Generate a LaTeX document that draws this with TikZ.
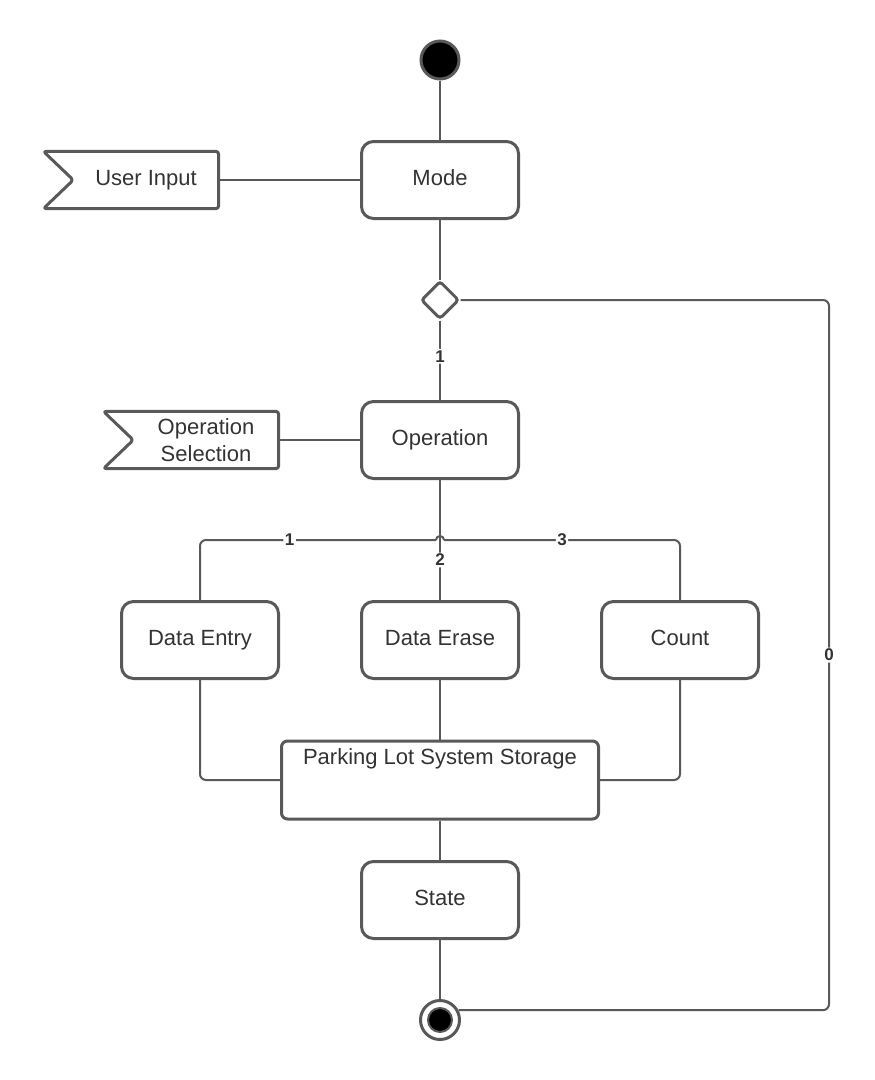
\documentclass[tikz,border=0pt]{standalone}
\usepackage{fontspec}
\setmainfont{Liberation Sans}
\usetikzlibrary{shapes.geometric,calc}
\definecolor{edge}{HTML}{595959}
\definecolor{ink}{HTML}{333333}
\tikzset{
  act/.style={draw=edge, line width=3pt, rectangle, rounded corners=12pt, align=center, text=ink, font=\fontsize{22}{27}\selectfont, minimum width=157pt, minimum height=77pt, text height=16pt, text depth=6pt, fill=white},
  flagbody/.style={rectangle, align=center, text=ink, font=\fontsize{22}{27}\selectfont, minimum width=145pt, minimum height=57pt, inner sep=0pt},
  flagline/.style={draw=edge, line width=3pt, rounded corners=3pt, line join=round},
  conn/.style={draw=edge, line width=2pt, rounded corners=6pt},
  lbl/.style={font=\fontsize{17}{20}\selectfont\bfseries, text=ink, fill=white, inner sep=1.5pt},
  startst/.style={circle, fill=black, draw=edge, line width=3pt, minimum size=38pt, inner sep=0pt},
  endst/.style={circle, fill=white, draw=edge, line width=3pt, minimum size=39pt, inner sep=0pt},
  enddot/.style={circle, fill=black, draw=edge, line width=2pt, minimum size=24pt, inner sep=0pt},
  choice/.style={diamond, draw=edge, line width=3pt, rounded corners=3pt, fill=white, minimum size=38pt, inner sep=0pt},
}

\begin{document}
\begin{tikzpicture}[x=1pt,y=-1pt]
\useasboundingbox (0,0) rectangle (875,1080);
% states and actions
\node[startst] (start) at (440,60) {};
\node[act] (mode) at (440,180) {Mode};
\node[choice] (dec) at (440,300) {};
\node[act] (op) at (440,440) {Operation};
\node[act] (entry) at (200,640) {Data Entry};
\node[act] (erase) at (440,640) {Data Erase};
\node[act] (count) at (680,640) {Count};
\node[act, rounded corners=6pt, minimum width=317pt, text height=16pt, text depth=47pt, inner ysep=7.5pt] (store) at (440,780) {Parking Lot System Storage};
\node[act] (state) at (440,900) {State};
\node[endst] (endst) at (440,1020) {};
\node[enddot] (enddot) at (endst.center) {};
% input signals
\node[flagbody, text height=16pt, text depth=6pt] (ui) at (146,180) {User Input};
\draw[flagline] ($(ui.north west)+(-30,0)$) -- (ui.north east) -- (ui.south east) -- ($(ui.south west)+(-30,0)$) -- (ui.west) -- cycle;
\node[flagbody] (opsel) at (206,440) {Operation\\Selection};
\draw[flagline] ($(opsel.north west)+(-30,0)$) -- (opsel.north east) -- (opsel.south east) -- ($(opsel.south west)+(-30,0)$) -- (opsel.west) -- cycle;
% flow
\coordinate (hopl) at (436,540);
\coordinate (hopr) at (444,540);
\coordinate (loopx) at (829,0);
\draw[conn] (start) -- (mode);
\draw[conn] (ui) -- (mode);
\draw[conn] (mode) -- (dec);
\draw[conn] (dec) -- node[lbl, pos=0.45]{1} (op);
\draw[conn] (opsel) -- (op);
\draw[conn] (op) -- node[lbl, pos=0.667]{2} (erase);
\draw[conn] (entry.north) |- node[lbl, pos=0.69]{1} (hopl);
\draw[conn, rounded corners=0pt] (hopl) arc[start angle=180, end angle=0, radius=4pt];
\draw[conn] (hopr) -| node[lbl, pos=0.25]{3} (count.north);
\draw[conn] (entry.south) |- (store.west);
\draw[conn] (count.south) |- (store.east);
\draw[conn] (erase) -- (store);
\draw[conn] (store) -- (state);
\draw[conn] (state) -- (endst);
\draw[conn] (dec.east) -| node[lbl, pos=0.75]{0} (endst.28 -| loopx) -- (endst.28);
\end{tikzpicture}
\end{document}
